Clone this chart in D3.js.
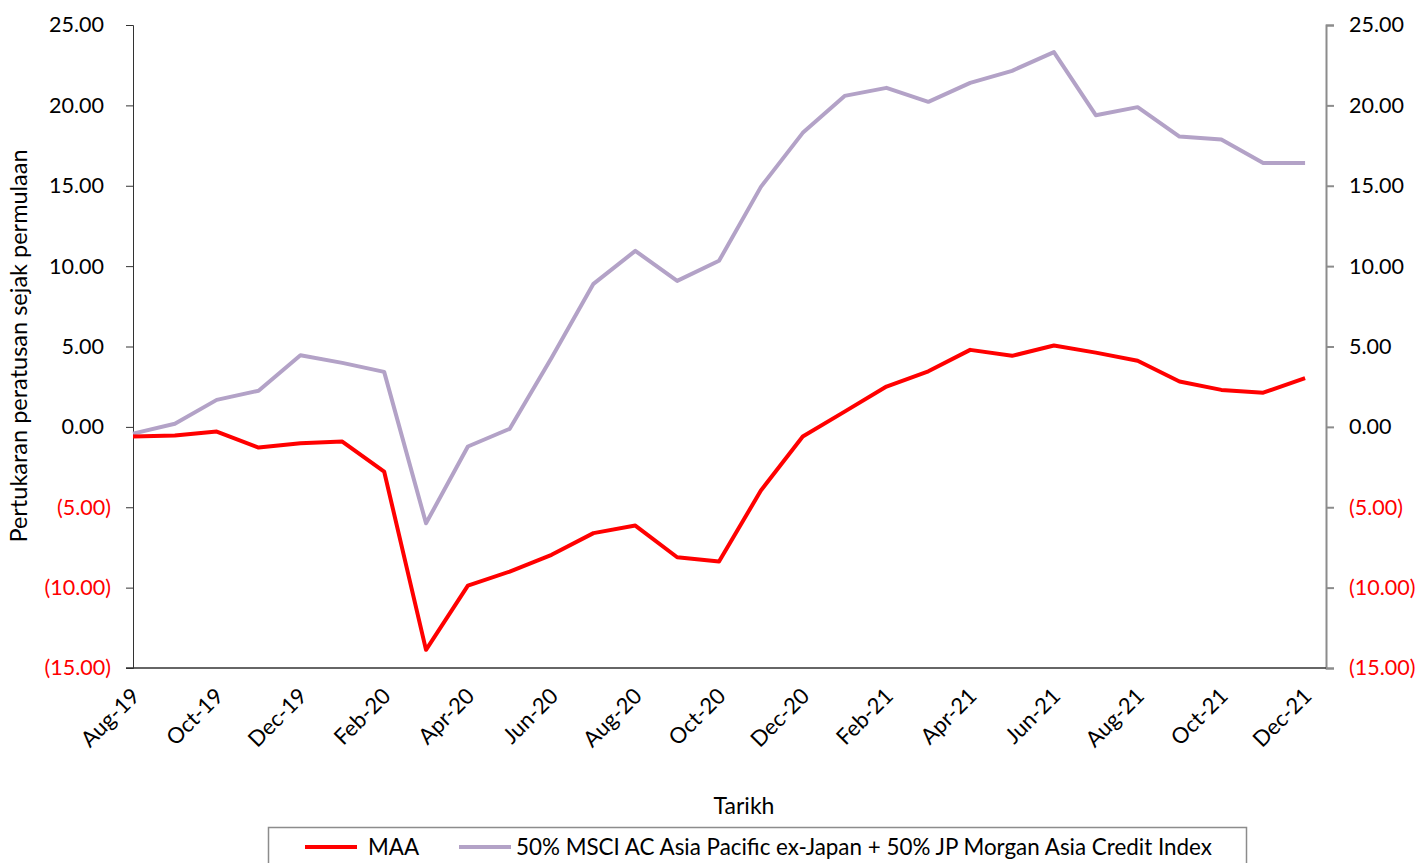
<!DOCTYPE html>
<html lang="ms">
<head>
<meta charset="UTF-8">
<title>MAA vs Benchmark</title>
<script src="https://d3js.org/d3.v7.min.js"></script>
<style>
    body { margin: 0; background: #fff; }
    svg text { font-family: Lato, "Open Sans", sans-serif; }
</style>
</head>
<body>
<svg id="chart" width="1420" height="863"></svg>
<script>
    // months Aug-19 .. Dec-21
    var months = ["Aug-19","Sep-19","Oct-19","Nov-19","Dec-19","Jan-20","Feb-20","Mar-20","Apr-20","May-20",
        "Jun-20","Jul-20","Aug-20","Sep-20","Oct-20","Nov-20","Dec-20","Jan-21","Feb-21","Mar-21",
        "Apr-21","May-21","Jun-21","Jul-21","Aug-21","Sep-21","Oct-21","Nov-21","Dec-21"];

    var maa = [-0.60, -0.54, -0.29, -1.29, -1.02, -0.91, -2.78, -13.87, -9.88, -9.00,
        -7.96, -6.61, -6.14, -8.11, -8.38, -3.96, -0.60, 0.95, 2.51, 3.46,
        4.79, 4.42, 5.06, 4.62, 4.11, 2.82, 2.30, 2.13, 3.03];

    var benchmark = [-0.42, 0.19, 1.68, 2.25, 4.45, 3.98, 3.42, -6.00, -1.22, -0.12,
        4.30, 8.90, 10.95, 9.08, 10.33, 14.93, 18.29, 20.59, 21.09, 20.22,
        21.40, 22.15, 23.31, 19.39, 19.89, 18.06, 17.87, 16.42, 16.42];

    var yTicks = [25, 20, 15, 10, 5, 0, -5, -10, -15];
    var seriesNames = ["MAA", "50% MSCI AC Asia Pacific ex-Japan + 50% JP Morgan Asia Credit Index"];
    var colors = ["#ff0000", "#b3a2c7"];

    var svg = d3.select("#chart");
    var plotLeft = 133, plotRight = 1326, plotTop = 25, plotBottom = 668;

    var x = d3.scaleLinear().domain([0, months.length - 0.5]).range([plotLeft, plotRight]);
    var y = d3.scaleLinear().domain([-15, 25]).range([plotBottom, plotTop]);

    function fmt(d) {
        return d < 0 ? "(" + d3.format(".2f")(-d) + ")" : d3.format(".2f")(d);
    }

    // left axis
    var gl = svg.append("g").attr("transform", "translate(" + plotLeft + ",0)")
        .call(d3.axisLeft(y).tickValues(yTicks).tickFormat(fmt).tickSizeOuter(0).tickSize(7).tickPadding(22));
    gl.select(".domain").attr("stroke", "#333");
    gl.selectAll(".tick line").attr("stroke", "#333");
    gl.selectAll(".tick text").attr("font-size", 21.5).attr("fill", function (d) { return d < 0 ? "#ff0000" : "#000"; });
    // negative labels sit a little further right (closing bracket)
    gl.selectAll(".tick text").attr("dx", function (d) { return d < 0 ? 7 : 0; });

    // right axis
    var gr = svg.append("g").attr("transform", "translate(" + plotRight + ",0)")
        .call(d3.axisRight(y).tickValues(yTicks).tickFormat(fmt).tickSizeOuter(0).tickSize(8).tickPadding(15));
    gr.select(".domain").attr("stroke", "#8c8c8c").attr("stroke-width", 2);
    gr.selectAll(".tick line").attr("stroke", "#8c8c8c").attr("stroke-width", 2);
    gr.selectAll(".tick text").attr("font-size", 21.5).attr("fill", function (d) { return d < 0 ? "#ff0000" : "#000"; });

    // bottom axis
    var labelIdx = d3.range(0, months.length, 2);
    var gb = svg.append("g").attr("transform", "translate(0," + plotBottom + ")")
        .call(d3.axisBottom(x).tickValues(labelIdx).tickFormat(function (i) { return months[i]; }).tickSize(0).tickSizeOuter(0));
    gb.select(".domain").attr("stroke", "#333").attr("stroke-width", 1.5).attr("d", "M" + (plotLeft - 7) + ",0H" + plotRight);
    gb.selectAll(".tick text")
        .attr("font-size", 22)
        .attr("fill", "#000")
        .attr("text-anchor", "end")
        .attr("transform", "translate(2,24) rotate(-45)")
        .attr("dy", "0.35em")
        .attr("y", 0);

    // lines
    var line = d3.line().x(function (d, i) { return x(i); }).y(function (d) { return y(d); });
    [benchmark, maa].forEach(function (s, k) {
        svg.append("path")
            .datum(s)
            .attr("fill", "none")
            .attr("stroke", k === 0 ? colors[1] : colors[0])
            .attr("stroke-width", 4)
            .attr("stroke-linejoin", "round")
            .attr("d", line);
    });

    // titles
    svg.append("text")
        .attr("transform", "translate(27,346) rotate(-90)")
        .attr("text-anchor", "middle")
        .attr("font-size", 23.5)
        .text("Pertukaran peratusan sejak permulaan");

    svg.append("text")
        .attr("x", 744).attr("y", 814)
        .attr("text-anchor", "middle")
        .attr("font-size", 23)
        .text("Tarikh");

    // legend
    var lg = svg.append("g");
    lg.append("rect").attr("x", 268.5).attr("y", 827.5).attr("width", 978).attr("height", 50)
        .attr("fill", "#fff").attr("stroke", "#8c8c8c").attr("stroke-width", 1.5);
    var legendX = [305, 459];
    seriesNames.forEach(function (name, k) {
        lg.append("line").attr("x1", legendX[k]).attr("x2", legendX[k] + 52)
            .attr("y1", 847).attr("y2", 847)
            .attr("stroke", colors[k]).attr("stroke-width", 4);
        lg.append("text").attr("x", legendX[k] + (k === 0 ? 63 : 57)).attr("y", 855)
            .attr("font-size", 22.4).text(name);
    });
</script>
</body>
</html>
